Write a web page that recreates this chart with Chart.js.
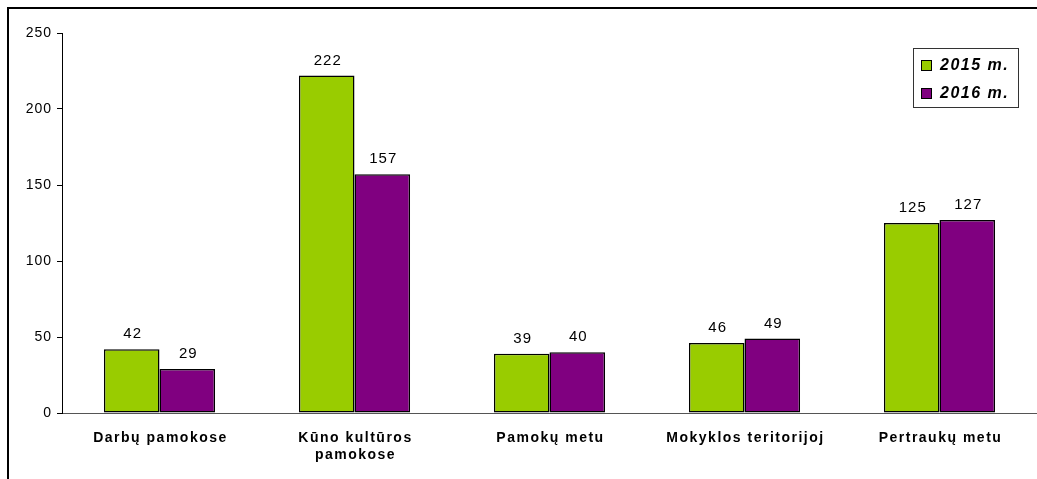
<!DOCTYPE html>
<html>
<head>
<meta charset="utf-8">
<script src="https://cdn.jsdelivr.net/npm/chart.js@4/dist/chart.umd.min.js"></script>
<style>
  body { margin: 0; background: #fff; }
  #wrap { width: 1037px; height: 479px; position: relative; }
</style>
</head>
<body>
<div id="wrap"><canvas id="myChart"></canvas></div>
<script>
// data
var categories = ['Darbų pamokose', ['Kūno kultūros', 'pamokose'], 'Pamokų metu', 'Mokyklos teritorijoj', 'Pertraukų metu'];
var values2015 = [42, 222, 39, 46, 125];
var values2016 = [29, 157, 40, 49, 127];
var seriesNames = ['2015 m.', '2016 m.'];
var yTicks = [0, 50, 100, 150, 200, 250];

var FONT = '"Liberation Sans", Arial, sans-serif';

// frame, only left and top edges are visible in the picture
var framePlugin = {
    id: 'frame',
    beforeDraw: function (chart) {
        var ctx = chart.ctx;
        ctx.save();
        ctx.fillStyle = '#fff';
        ctx.fillRect(0, 0, chart.width, chart.height);
        ctx.strokeStyle = '#000';
        ctx.lineWidth = 2;
        ctx.beginPath();
        ctx.moveTo(8, chart.height);
        ctx.lineTo(8, 8);
        ctx.lineTo(chart.width, 8);
        ctx.stroke();
        ctx.restore();
        ctx.letterSpacing = '1px';
    }
};

// category names under the axis, bold and spaced out
var xLabelPlugin = {
    id: 'xLabels',
    afterDraw: function (chart) {
        var ctx = chart.ctx;
        var xs = chart.scales.x;
        ctx.save();
        ctx.letterSpacing = '1.5px';
        ctx.font = 'bold 14px ' + FONT;
        ctx.fillStyle = '#000';
        ctx.textAlign = 'center';
        ctx.textBaseline = 'alphabetic';
        categories.forEach(function (c, i) {
            var lines = Array.isArray(c) ? c : [c];
            var x = xs.getPixelForValue(i) + 1;
            lines.forEach(function (line, j) {
                ctx.fillText(line, x, xs.top + 29 + j * 17);
            });
        });
        ctx.restore();
    }
};

// numbers above the bars
var valuePlugin = {
    id: 'values',
    afterDatasetsDraw: function (chart) {
        var ctx = chart.ctx;
        ctx.save();
        ctx.letterSpacing = '1px';
        ctx.font = '15px ' + FONT;
        ctx.fillStyle = '#000';
        ctx.textAlign = 'center';
        ctx.textBaseline = 'alphabetic';
        chart.data.datasets.forEach(function (ds, i) {
            chart.getDatasetMeta(i).data.forEach(function (bar, j) {
                ctx.fillText(ds.data[j], bar.x + 1, bar.y - 11);
            });
        });
        ctx.restore();
    }
};

// legend box in the top right corner
var legendPlugin = {
    id: 'boxLegend',
    afterDraw: function (chart) {
        var ctx = chart.ctx;
        ctx.save();
        ctx.strokeStyle = '#333';
        ctx.lineWidth = 1;
        ctx.strokeRect(913.5, 48.5, 105, 59);
        ctx.font = 'italic bold 16px ' + FONT;
        ctx.letterSpacing = '1.5px';
        ctx.textBaseline = 'middle';
        ctx.textAlign = 'left';
        chart.data.datasets.forEach(function (ds, i) {
            var y = 65 + i * 28;
            ctx.fillStyle = ds.backgroundColor;
            ctx.fillRect(921, y - 5, 11, 11);
            ctx.strokeStyle = '#000';
            ctx.strokeRect(921.5, y - 4.5, 10, 10);
            ctx.fillStyle = '#000';
            ctx.fillText(ds.label, 940, y + 1);
        });
        ctx.restore();
    }
};

var ctx = document.getElementById('myChart').getContext('2d');
var myChart = new Chart(ctx, {
    type: 'bar',
    data: {
        labels: categories,
        datasets: [{
            label: seriesNames[0],
            data: values2015,
            backgroundColor: '#99CC00',
            borderColor: '#000',
            borderWidth: 1.5,
            borderSkipped: false
        }, {
            label: seriesNames[1],
            data: values2016,
            backgroundColor: '#800080',
            borderColor: '#000',
            borderWidth: 1.5,
            borderSkipped: false
        }]
    },
    options: {
        responsive: true,
        maintainAspectRatio: false,
        animation: false,
        devicePixelRatio: 1,
        layout: { padding: { top: 33, left: 0, right: 0, bottom: 0 } },
        barPercentage: 1,
        categoryPercentage: 0.57,
        plugins: {
            legend: { display: false },
            tooltip: { enabled: false }
        },
        scales: {
            x: {
                grid: { drawOnChartArea: false, drawTicks: false },
                border: { color: '#555', width: 1 },
                ticks: { display: false },
                afterFit: function (scale) { scale.height = 66; }
            },
            y: {
                min: 0,
                max: 250,
                afterBuildTicks: function (scale) {
                    scale.ticks = yTicks.map(function (v) { return { value: v }; });
                },
                grid: { drawOnChartArea: false, drawTicks: true, tickLength: 5, color: '#000' },
                border: { color: '#000', width: 1 },
                ticks: {
                    padding: 5,
                    color: '#000',
                    font: { family: FONT, size: 14 }
                },
                afterFit: function (scale) { scale.width = 62; }
            }
        }
    },
    plugins: [framePlugin, valuePlugin, xLabelPlugin, legendPlugin]
});
</script>
</body>
</html>
